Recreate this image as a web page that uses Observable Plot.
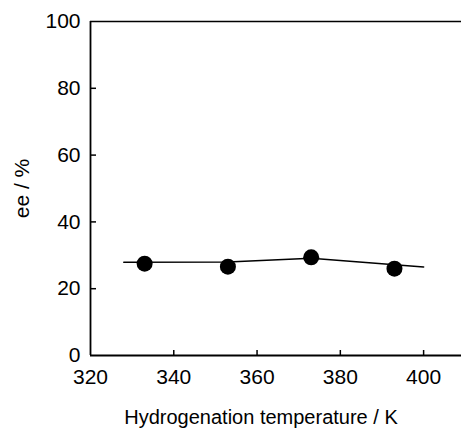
<!DOCTYPE html>
<html>
<head>
<meta charset="utf-8">
<script src="https://cdn.jsdelivr.net/npm/d3@7"></script>
<script src="https://cdn.jsdelivr.net/npm/@observablehq/plot@0.6"></script>
<style>
  html, body { margin: 0; padding: 0; background: #fff; }
  #chart svg { display: block; }
</style>
</head>
<body>
<div id="chart"></div>
<script>
// Measured points
const tempK = [333, 353, 373, 393];
const eePct = [27.5, 26.6, 29.4, 26.0];
// Trend line vertices
const lineTempK = [328, 353, 373, 400];
const lineEe = [27.9, 28.0, 29.1, 26.5];
// Tick values
const xTickLabels = [320, 340, 360, 380, 400];
const xTickMarks = [340, 360, 380, 400];
const yTickLabels = [0, 20, 40, 60, 80, 100];
const yTickMarks = [20, 40, 60, 80];
const xTitle = "Hydrogenation temperature / K";
const yTitle = "ee / %";

const points = tempK.map((t, i) => ({t, ee: eePct[i]}));
const trend = lineTempK.map((t, i) => ({t, ee: lineEe[i]}));

const chart = Plot.plot({
  width: 461,
  height: 428,
  marginLeft: 90,
  marginRight: 0,
  marginTop: 21,
  marginBottom: 73,
  style: {fontFamily: "'Liberation Sans', Arial, Helvetica, sans-serif", fontSize: "21px", color: "#000", background: "#fff"},
  x: {domain: [320, 409.1]},
  y: {domain: [0, 100]},
  marks: [
    Plot.axisX({ticks: xTickLabels, tickSize: 0, tickPadding: 14, label: null, fontSize: 21, fill: "#000"}),
    Plot.axisX({ticks: xTickMarks, tickSize: -5, text: null, label: null, strokeWidth: 1.5, stroke: "#000"}),
    Plot.axisY({ticks: yTickLabels, tickSize: 0, tickPadding: 10, label: null, fontSize: 21, fill: "#000"}),
    Plot.axisY({ticks: yTickMarks, tickSize: -6, text: null, label: null, strokeWidth: 1.5, stroke: "#000"}),
    Plot.axisY({ticks: [], label: yTitle, labelAnchor: "center", labelArrow: "none", labelOffset: 76, dy: 3, fontSize: 21, fill: "#000"}),
    Plot.text([xTitle], {frameAnchor: "bottom", dx: -15, dy: 62, lineAnchor: "middle", fontSize: 20, fill: "#000"}),
    Plot.ruleY([100], {stroke: "#000", strokeWidth: 1.6}),
    Plot.ruleY([0], {stroke: "#000", strokeWidth: 1.8}),
    Plot.ruleX([320], {stroke: "#000", strokeWidth: 1.8}),
    Plot.line(trend, {x: "t", y: "ee", stroke: "#000", strokeWidth: 1.6}),
    Plot.dot(points, {x: "t", y: "ee", r: 8, fill: "#000", stroke: "none"})
  ]
});
document.getElementById("chart").append(chart);
</script>
</body>
</html>
